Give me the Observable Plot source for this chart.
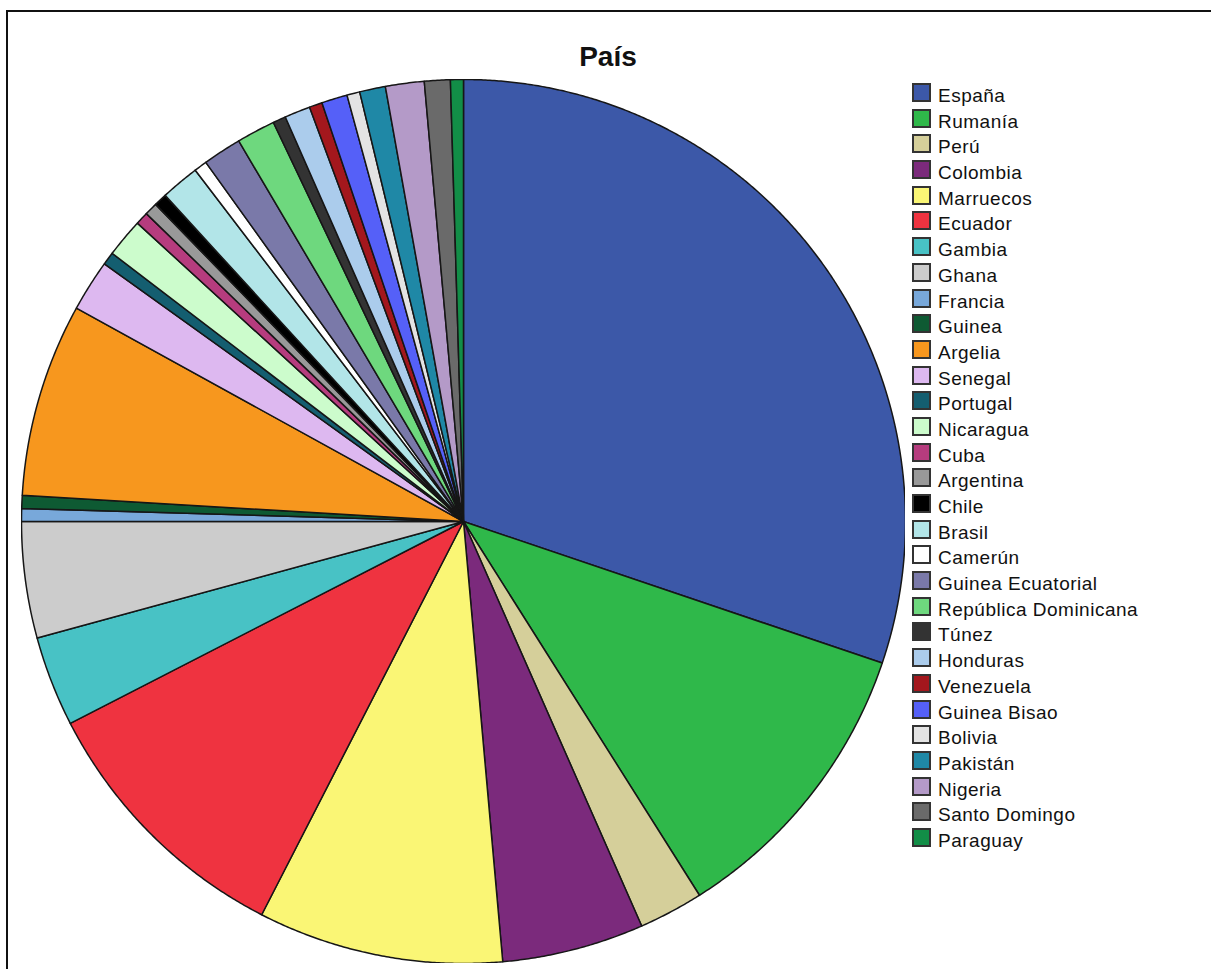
<!DOCTYPE html>
<html>
<head>
<meta charset="utf-8">
<script src="https://cdn.jsdelivr.net/npm/d3@7"></script>
<script src="https://cdn.jsdelivr.net/npm/@observablehq/plot@0.6"></script>
<style>
  html, body { margin: 0; padding: 0; background: #fff; overflow: hidden; }
  #page { position: relative; width: 1211px; height: 969px; overflow: hidden; font-family: "Liberation Sans", Arial, sans-serif; }
  #frame { position: absolute; left: 6px; top: 10px; width: 1400px; height: 1200px; border: 2px solid #111; box-sizing: border-box; }
  #title { position: absolute; left: 0; top: 43px; width: 1216px; text-align: center; font-size: 28px; line-height: 28px; font-weight: bold; color: #111; }
  #chart { position: absolute; left: 21px; top: 79px; }
  .row { position: absolute; left: 912px; height: 19px; }
  .sw { position: absolute; left: 0; top: 0; width: 19px; height: 19px; box-sizing: border-box; border: 2px solid #333; }
  .lb { position: absolute; left: 26px; top: 3px; font-size: 19px; line-height: 19px; letter-spacing: 0.5px; color: #111; white-space: nowrap; }
</style>
</head>
<body>
<div id="page">
  <div id="frame"></div>
  <div id="title">País</div>
  <div id="chart"></div>
  <div id="legend"></div>
</div>
<script>
const countries = ["España","Rumanía","Perú","Colombia","Marruecos","Ecuador","Gambia","Ghana","Francia","Guinea","Argelia","Senegal","Portugal","Nicaragua","Cuba","Argentina","Chile","Brasil","Camerún","Guinea Ecuatorial","República Dominicana","Túnez","Honduras","Venezuela","Guinea Bisao","Bolivia","Pakistán","Nigeria","Santo Domingo","Paraguay"];
const counts = [64,23,5,11,19,21,7,9,1,1,15,4,1,3,1,1,1,3,1,3,3,1,2,1,2,1,2,3,2,1];
const colors = ["#3C58A8","#2FB84A","#D5CF9A","#7B2A7C","#FAF675","#EF3340","#48C2C5","#CCCCCC","#78A8DA","#0E5A33","#F7971E","#DDB8F0","#145E70","#CCFCCC","#B63C7E","#999999","#000000","#B2E5E8","#FFFFFF","#7A79A9","#6ED87E","#333333","#ABCCEC","#A3171D","#5560F8","#E3E3E3","#1F88A6","#B49AC8","#6A6A6A","#128E47"];
const title = "País";

// build slice outlines (geometry) from the counts via d3.pie
const arcs = d3.pie().sort(null).value(d => d.count)(countries.map((c, i) => ({country: c, count: counts[i]})));
const pts = [];
for (const a of arcs) {
  const c = a.data.country;
  pts.push({country: c, x: 0, y: 0});
  const n = Math.max(2, Math.ceil((a.endAngle - a.startAngle) / 0.005));
  for (let k = 0; k <= n; k++) {
    const t = a.startAngle + (a.endAngle - a.startAngle) * k / n;
    pts.push({country: c, x: Math.sin(t), y: Math.cos(t)});
  }
  pts.push({country: c, x: 0, y: 0});
}

const chart = Plot.plot({
  width: 884, height: 884, margin: 0,
  x: {domain: [-1, 1], axis: null},
  y: {domain: [-1, 1], axis: null},
  color: {domain: countries, range: colors},
  marks: [
    Plot.line(pts, {x: "x", y: "y", z: "country", fill: "country", stroke: "#161616", strokeWidth: 1.5, strokeLinejoin: "round", curve: "linear"})
  ]
});
document.getElementById("chart").appendChild(chart);
document.getElementById("title").textContent = title;

const legend = document.getElementById("legend");
countries.forEach((c, i) => {
  const row = document.createElement("div");
  row.className = "row";
  row.style.top = (83 + i * 25.69) + "px";
  const sw = document.createElement("div");
  sw.className = "sw";
  sw.style.background = colors[i];
  const lb = document.createElement("div");
  lb.className = "lb";
  lb.textContent = c;
  row.appendChild(sw); row.appendChild(lb);
  legend.appendChild(row);
});
</script>
</body>
</html>
